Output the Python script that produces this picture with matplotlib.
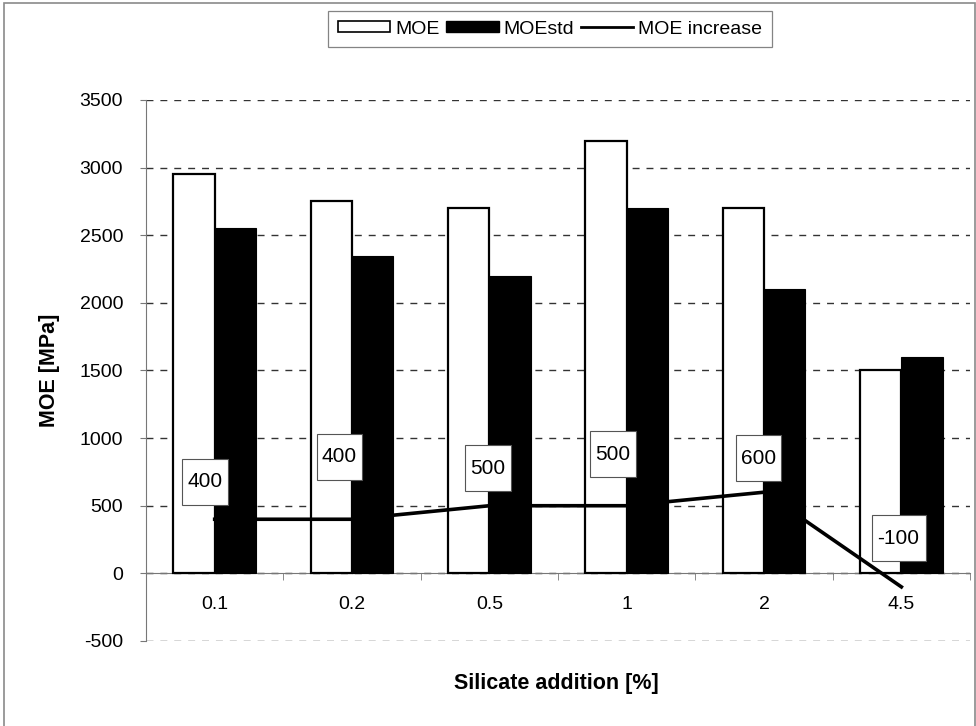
import matplotlib
matplotlib.use("Agg")
import matplotlib.pyplot as plt
from matplotlib.patches import Rectangle, Patch
from matplotlib.lines import Line2D
from matplotlib.transforms import Affine2D, ScaledTranslation
import numpy as np

plt.rcParams['font.family'] = ['Liberation Sans', 'DejaVu Sans']

categories = ["0.1", "0.2", "0.5", "1", "2", "4.5"]
moe = [2950, 2750, 2700, 3200, 2700, 1500]
moe_std = [2550, 2350, 2200, 2700, 2100, 1600]
moe_increase = [400, 400, 500, 500, 600, -100]
y_ticks = [-500, 0, 500, 1000, 1500, 2000, 2500, 3000, 3500]

# value-label box centres, in points, relative to each line point
label_offsets = [(-7, 27), (-9, 45), (-1, 27), (-10, 37), (-4, 24.5), (-2, 35)]

fig = plt.figure(figsize=(9.76, 7.26), dpi=100)
fig.patches.append(Rectangle((0.004, -0.01), 0.995, 1.006, transform=fig.transFigure,
                             fill=False, edgecolor='#8a8a8a', linewidth=1.2))

ax = fig.add_axes([0.1496, 0.1171, 0.8443, 0.7452])
x = np.arange(len(categories))
w = 0.3

ax.bar(x - w / 2, moe, width=w, color='white', edgecolor='black', linewidth=1.6,
       label='MOE', zorder=3)
ax.bar(x + w / 2, moe_std, width=w, color='black', edgecolor='black', linewidth=0.8,
       label='MOEstd', zorder=3)
ax.plot(x, moe_increase, color='black', linewidth=2.6, label='MOE increase', zorder=4)

# boxed value labels: fixed-size boxes (points) anchored at the data point
pt_to_px = Affine2D().scale(1 / 72.0) + fig.dpi_scale_trans
for xi, val, (dx, dy) in zip(x, moe_increase, label_offsets):
    s = f"{val}"
    bw = 6 * len(s) + 15
    bh = 33
    tr = pt_to_px + ScaledTranslation(xi, val, ax.transData)
    ax.add_artist(Rectangle((dx - bw / 2, dy - bh / 2), bw, bh, transform=tr,
                            facecolor='white', edgecolor='#555555', linewidth=0.8,
                            zorder=6, clip_on=False))
    ax.annotate(s, xy=(xi, val), xytext=(dx, dy), textcoords='offset points',
                ha='center', va='center', fontsize=15, zorder=7)

ax.set_xlim(-0.5, len(categories) - 0.5)
ax.set_ylim(-500, 3500)
ax.set_yticks(y_ticks)
ax.set_yticklabels([str(v) for v in y_ticks])
ax.yaxis.grid(True, linestyle=(0, (5, 5)), color='#333333', linewidth=1.0)
ax.set_axisbelow(True)

ax.set_xticks(x)
ax.set_xticklabels(categories)
ax.set_xticks(np.arange(len(categories) + 1) - 0.5, minor=True)
ax.tick_params(axis='x', which='major', length=0, pad=16, labelsize=14)
ax.tick_params(axis='x', which='minor', length=5, color='#777777', direction='out')
ax.tick_params(axis='y', length=4.5, color='#777777', pad=12, labelsize=14)

for s in ['top', 'right']:
    ax.spines[s].set_visible(False)
ax.spines['bottom'].set_position(('data', 0))
ax.spines['bottom'].set_color('#777777')
ax.spines['left'].set_color('#777777')

fig.text(49 / 976, 1 - 370 / 726, 'MOE [MPa]', rotation=90, ha='center', va='center',
         fontsize=15.5, fontweight='bold')
fig.text(556 / 976, 1 - 684 / 726, 'Silicate addition [%]', ha='center', va='center',
         fontsize=15.5, fontweight='bold')

handles = [Patch(facecolor='white', edgecolor='black', linewidth=1.2),
           Patch(facecolor='black', edgecolor='black'),
           Line2D([], [], color='black', linewidth=2)]
leg = fig.legend(handles, ['MOE', 'MOEstd', 'MOE increase'], ncol=3,
                 loc='center', bbox_to_anchor=(550 / 976, 1 - 29 / 726), fontsize=14,
                 frameon=True, fancybox=False, handlelength=2.7, handleheight=0.5,
                 handletextpad=0.25, columnspacing=0.35, borderpad=0.5)
leg.get_frame().set_edgecolor('#666666')
leg.get_frame().set_linewidth(0.9)

fig.savefig('out.png', dpi=100)
